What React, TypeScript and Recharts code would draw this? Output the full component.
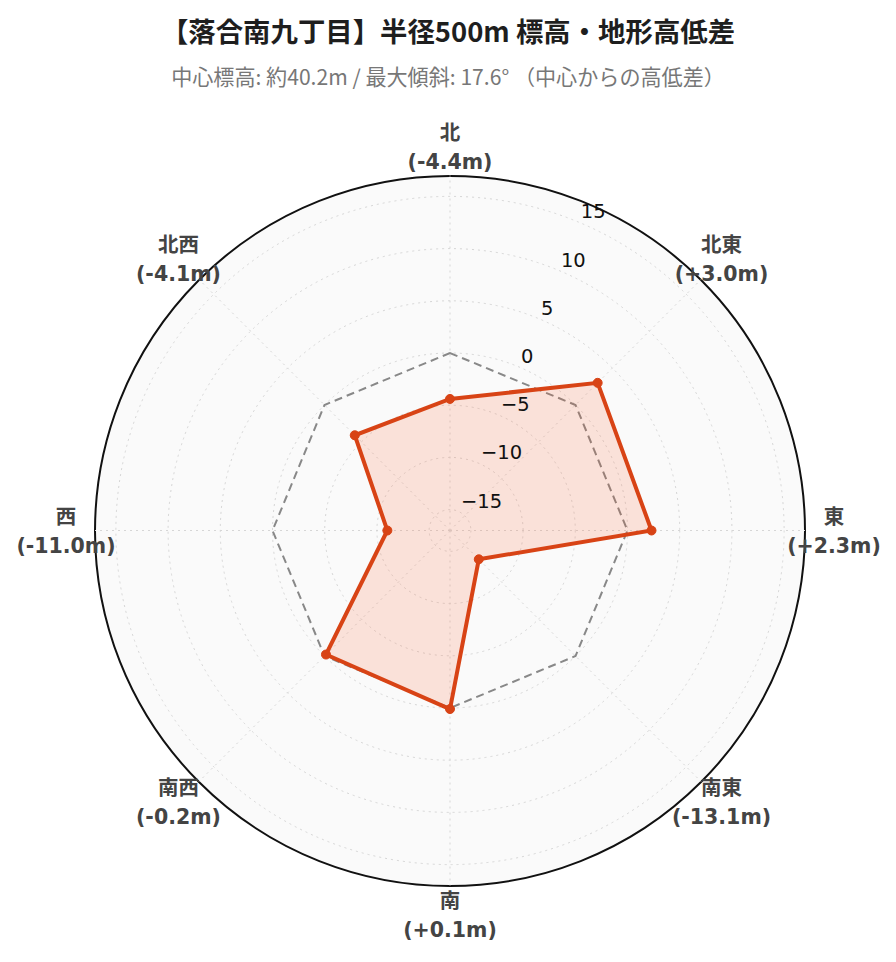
import { RadarChart, Radar, PolarGrid, PolarAngleAxis, PolarRadiusAxis } from 'recharts';

const directions = ['北', '北東', '東', '南東', '南', '南西', '西', '北西'];
const diffs = [-4.4, 3.0, 2.3, -13.1, 0.1, -0.2, -11.0, -4.1];
const baseline = [0, 0, 0, 0, 0, 0, 0, 0];
const radiusTicks = [-15, -10, -5, 0, 5, 10, 15];
const radiusDomain = [-17, 17];

const TITLE = '【落合南九丁目】半径500m 標高・地形高低差';
const SUBTITLE = '中心標高: 約40.2m / 最大傾斜: 17.6° （中心からの高低差）';

const W = 896;
const H = 962;
const CX = 450;
const CY = 530.5;
const R = 355;
const LABEL_R = 384;
const LINE = '#d84315';
const FILL = '#ff5722';
const FONT = '"DejaVu Sans", "Noto Sans CJK JP", sans-serif';
const CJK = '"Noto Sans CJK JP", "Noto Sans", sans-serif';

const data = directions.map((d, i) => ({ dir: d, diff: diffs[i], base: baseline[i] }));

const fmt = (v: number) => `(${v >= 0 ? '+' : '-'}${Math.abs(v).toFixed(1)}m)`;

function AngleTick(props: any) {
  const { x, y, payload, index } = props;
  const dx = x - CX, dy = y - CY;
  const d = Math.sqrt(dx * dx + dy * dy) || 1;
  const px = CX + (dx / d) * LABEL_R;
  const py = CY + (dy / d) * LABEL_R;
  const i = typeof index === 'number' ? index : directions.indexOf(payload.value);
  return (
    <g>
      <text x={px} y={py - 14} textAnchor="middle" dominantBaseline="central" fill="#444" fontSize={20.5} fontWeight="bold" fontFamily={FONT}>
        {payload.value}
      </text>
      <text x={px} y={py + 15} textAnchor="middle" dominantBaseline="central" fill="#444" fontSize={20.5} fontWeight="bold" fontFamily={FONT}>
        {fmt(diffs[i])}
      </text>
    </g>
  );
}

function RadiusTick(props: any) {
  const { x, y, payload } = props;
  const v = Number(payload.value);
  const label = v < 0 ? `\u2212${Math.abs(v)}` : String(v);
  return (
    <text x={x + 3} y={y - 10} textAnchor="start" dominantBaseline="central" fill="#111" fontSize={19.5} fontFamily={FONT}>
      {label}
    </text>
  );
}

export default function App() {
  return (
    <div style={{ position: 'absolute', left: 0, top: 0, width: W, height: H, background: '#fff' }}>
      <div style={{ position: 'absolute', left: 0, top: 10, width: W, textAlign: 'center', fontFamily: CJK, fontWeight: 'bold', fontSize: 27.4, lineHeight: '40px', color: '#1e1e1e' }}>
        {TITLE}
      </div>
      <div style={{ position: 'absolute', left: 0, top: 61, width: W, textAlign: 'center', fontFamily: CJK, fontSize: 21.1, lineHeight: '30px', color: '#777' }}>
        {SUBTITLE}
      </div>
      {/* plot background + outer ring */}
      <div style={{ position: 'absolute', left: CX - R - 1, top: CY - R - 1, width: 2 * R + 2, height: 2 * R + 2, boxSizing: 'border-box', borderRadius: '50%', border: '2px solid #111', background: '#fafafa' }} />
      <div style={{ position: 'absolute', left: 0, top: 0 }}>
        <RadarChart width={W} height={H} data={data} cx={CX} cy={CY} outerRadius={R} margin={{ top: 0, right: 0, bottom: 0, left: 0 }}>
          <PolarGrid gridType="circle" stroke="#d6d6d6" strokeDasharray="2 4" />
          <PolarAngleAxis dataKey="dir" tick={<AngleTick />} tickLine={false} axisLine={false} />
          <PolarRadiusAxis
            angle={67.5}
            type="number"
            domain={radiusDomain}
            ticks={radiusTicks}
            allowDataOverflow
            axisLine={false}
            tickLine={false}
            tick={<RadiusTick />}
          />
          <Radar dataKey="base" stroke="#888" strokeWidth={2} strokeDasharray="8 5" fill="none" fillOpacity={0} dot={false} isAnimationActive={false} />
          <Radar dataKey="diff" stroke={LINE} strokeWidth={4} fill={FILL} fillOpacity={0.15} dot={{ r: 4.5, fill: LINE, fillOpacity: 1, stroke: LINE, strokeWidth: 1 }} isAnimationActive={false} />
        </RadarChart>
      </div>
    </div>
  );
}
